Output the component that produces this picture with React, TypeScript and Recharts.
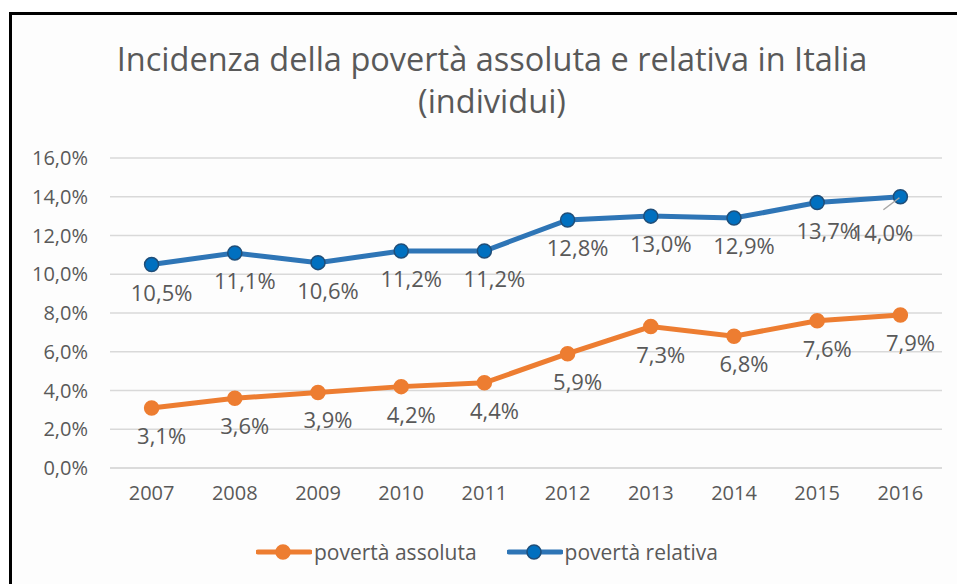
import { LineChart, Line, XAxis, YAxis, CartesianGrid, LabelList } from "recharts";

const years = ["2007", "2008", "2009", "2010", "2011", "2012", "2013", "2014", "2015", "2016"];
const assoluta = [3.1, 3.6, 3.9, 4.2, 4.4, 5.9, 7.3, 6.8, 7.6, 7.9];
const relativa = [10.5, 11.1, 10.6, 11.2, 11.2, 12.8, 13.0, 12.9, 13.7, 14.0];
const yTicks = [0, 2, 4, 6, 8, 10, 12, 14, 16];

const ORANGE = "#ED7D31";
const BLUE = "#2E75B6";
const BLUE_DOT = "#0070C0";
const BLUE_EDGE = "#1F4E79";
const TEXT = "#595959";
const FONT = "'Open Sans', sans-serif";

const fmt = (v: number) => v.toFixed(1).replace(".", ",") + "%";

const data = years.map((y, i) => ({ year: y, abs: assoluta[i], rel: relativa[i] }));

function makeLabel(series: "abs" | "rel") {
  return (props: any) => {
    const { x, y, value, index } = props;
    const last = series === "rel" && index === years.length - 1;
    if (last) {
      return (
        <g>
          <line x1={x - 1} y1={y + 1} x2={x - 17} y2={y + 13} stroke="#a6a6a6" strokeWidth={1.5} />
          <text x={x - 18} y={y + 35} textAnchor="middle" dominantBaseline="central"
            fill={TEXT} fontSize={22} fontFamily={FONT}>
            {fmt(value)}
          </text>
        </g>
      );
    }
    return (
      <text x={x + 10} y={y + 27} textAnchor="middle" dominantBaseline="central"
        fill={TEXT} fontSize={22} fontFamily={FONT}>
        {fmt(value)}
      </text>
    );
  };
}

function LegendItem({ color, dot, edge, label }: { color: string; dot: string; edge: string; label: string }) {
  return (
    <div style={{ display: "flex", alignItems: "center" }}>
      <svg width={56} height={20}>
        <line x1={2} y1={10} x2={54} y2={10} stroke={color} strokeWidth={5} strokeLinecap="round" />
        <circle cx={27} cy={10} r={7} fill={dot} stroke={edge} strokeWidth={1.5} />
      </svg>
      <span style={{ marginLeft: 2 }}>{label}</span>
    </div>
  );
}

export default function App() {
  return (
    <div style={{ position: "absolute", left: 0, top: 0, width: 957, height: 584, overflow: "hidden", background: "#fff" }}>
      <div style={{
        position: "absolute", left: 9, top: 12, width: 1000, height: 700,
        borderTop: "3px solid #000", borderLeft: "3px solid #000", background: "#fdfdfd",
      }} />
      <div style={{
        position: "absolute", left: 0, top: 38, width: 984, textAlign: "center",
        fontFamily: FONT, fontSize: 32.5, lineHeight: "42px", color: TEXT,
      }}>
        Incidenza della povertà assoluta e relativa in Italia
        <br />
        (individui)
      </div>
      <div style={{ position: "absolute", left: 0, top: 0 }}>
        <LineChart width={957} height={584} data={data}
          margin={{ top: 158, right: 15, left: 0, bottom: 76 }}>
          <CartesianGrid vertical={false} stroke="#d9d9d9" strokeWidth={1.5} />
          <XAxis dataKey="year" height={40} padding={{ left: 41.6, right: 41.6 }}
            axisLine={{ stroke: "#d9d9d9", strokeWidth: 1.5 }} tickLine={false} tickSize={0} tickMargin={18}
            tick={{ fill: TEXT, fontSize: 20, fontFamily: FONT }} />
          <YAxis width={110} domain={[0, 16]} ticks={yTicks} tickFormatter={fmt}
            axisLine={false} tickLine={false} tickSize={0} tickMargin={22}
            tick={{ fill: TEXT, fontSize: 20, fontFamily: FONT }} />
          <Line dataKey="rel" name="povertà relativa" stroke={BLUE} strokeWidth={5}
            dot={{ r: 7, fill: BLUE_DOT, stroke: BLUE_EDGE, strokeWidth: 1.5 }} isAnimationActive={false}>
            <LabelList dataKey="rel" content={makeLabel("rel")} />
          </Line>
          <Line dataKey="abs" name="povertà assoluta" stroke={ORANGE} strokeWidth={5}
            dot={{ r: 7, fill: ORANGE, stroke: ORANGE, strokeWidth: 1.5 }} isAnimationActive={false}>
            <LabelList dataKey="abs" content={makeLabel("abs")} />
          </Line>
        </LineChart>
      </div>
      <div style={{
        position: "absolute", left: 256, top: 538, display: "flex", gap: 30,
        fontFamily: FONT, fontSize: 21, color: TEXT,
      }}>
        <LegendItem color={ORANGE} dot={ORANGE} edge={ORANGE} label="povertà assoluta" />
        <LegendItem color={BLUE} dot={BLUE_DOT} edge={BLUE_EDGE} label="povertà relativa" />
      </div>
    </div>
  );
}
